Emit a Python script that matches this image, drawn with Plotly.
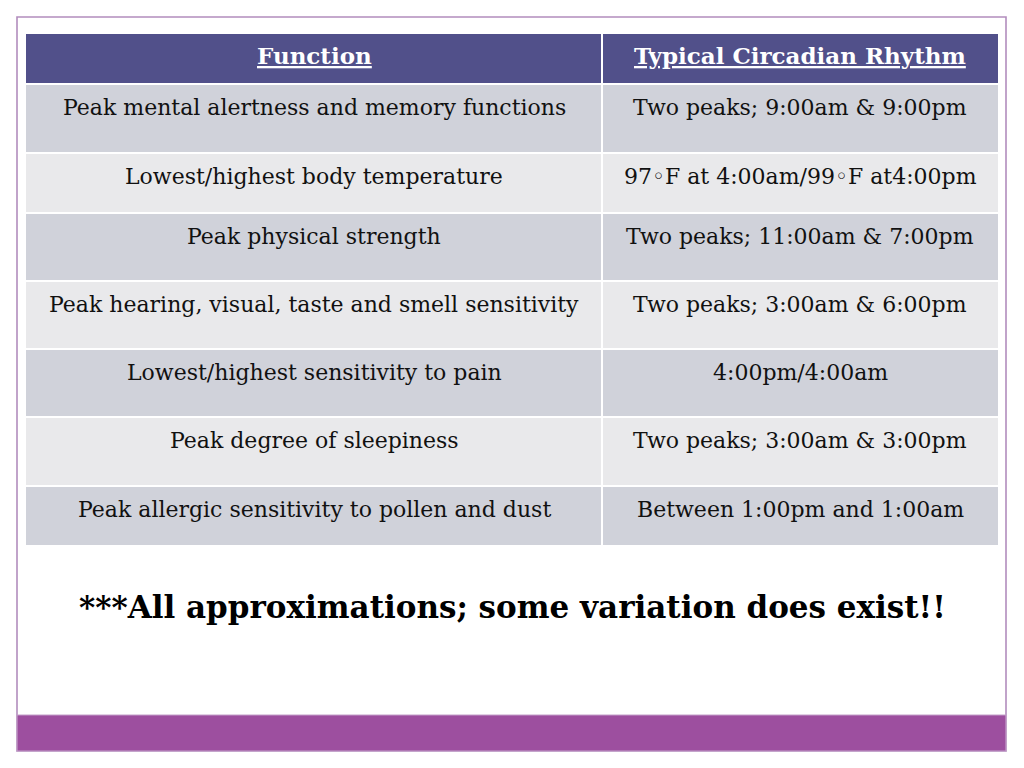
import plotly.graph_objects as go

# ---- data ----
headers = ["Function", "Typical Circadian Rhythm"]
functions = [
    "Peak mental alertness and memory functions",
    "Lowest/highest body temperature",
    "Peak physical strength",
    "Peak hearing, visual, taste and smell sensitivity",
    "Lowest/highest sensitivity to pain",
    "Peak degree of sleepiness",
    "Peak allergic sensitivity to pollen and dust",
]
rhythms = [
    "Two peaks; 9:00am & 9:00pm",
    "97\u25e6F at 4:00am/99\u25e6F at4:00pm",
    "Two peaks; 11:00am & 7:00pm",
    "Two peaks; 3:00am & 6:00pm",
    "4:00pm/4:00am",
    "Two peaks; 3:00am & 3:00pm",
    "Between 1:00pm and 1:00am",
]
footnote = "***All approximations; some variation does exist!!"

# ---- layout constants ----
W, H = 1024, 768
OFF = 8  # page body margin
col_edges = [26, 602, 998]
header_box = (34, 83)
row_bounds = [(85, 152), (154, 212), (214, 280), (282, 348), (350, 416), (418, 485), (487, 545)]
header_color = "#51508a"
dark_row = "#d0d2da"
light_row = "#e9e9eb"
FONT = "DejaVu Serif"

fig = go.Figure()
shapes = []
annotations = []

# slide frame
shapes.append(dict(type="rect", x0=17, x1=1006, y0=17, y1=751,
                   line=dict(color="#b28dbd", width=1.6), fillcolor="white", layer="below"))
# bottom bar
shapes.append(dict(type="rect", x0=17, x1=1006, y0=715, y1=751,
                   line=dict(color="#c39fc9", width=1.2), fillcolor="#9d4f9f", layer="below"))

# header cells
for c in range(2):
    x0 = col_edges[c] + (0 if c == 0 else 1)
    x1 = col_edges[c + 1] - (1 if c == 0 else 0)
    shapes.append(dict(type="rect", x0=x0, x1=x1, y0=header_box[0], y1=header_box[1],
                       line=dict(width=0), fillcolor=header_color, layer="below"))
    annotations.append(dict(x=(col_edges[c] + col_edges[c + 1]) / 2, y=(header_box[0] + header_box[1]) / 2 - 3,
                            text="<b>" + headers[c] + "</b>", showarrow=False,
                            xanchor="center", yanchor="middle",
                            font=dict(family=FONT, size=23, color="white", lineposition="under")))

# body rows
for r, (top, bot) in enumerate(row_bounds):
    fill = dark_row if r % 2 == 0 else light_row
    for c in range(2):
        x0 = col_edges[c] + (0 if c == 0 else 1)
        x1 = col_edges[c + 1] - (1 if c == 0 else 0)
        shapes.append(dict(type="rect", x0=x0, x1=x1, y0=top, y1=bot,
                           line=dict(width=0), fillcolor=fill, layer="below"))
    for c, txt in enumerate([functions[r], rhythms[r]]):
        annotations.append(dict(x=(col_edges[c] + col_edges[c + 1]) / 2, y=top + 22,
                                text=txt, showarrow=False, xanchor="center", yanchor="middle",
                                font=dict(family=FONT, size=22, color="#111111")))

# footnote
annotations.append(dict(x=512, y=607, text="<b>" + footnote + "</b>", showarrow=False,
                        xanchor="center", yanchor="middle",
                        font=dict(family=FONT, size=31, color="black")))

fig.update_layout(
    width=W, height=H,
    margin=dict(l=0, r=0, t=0, b=0),
    paper_bgcolor="white", plot_bgcolor="white",
    xaxis=dict(range=[OFF, W + OFF], visible=False, fixedrange=True),
    yaxis=dict(range=[H + OFF, OFF], visible=False, fixedrange=True),
    shapes=shapes, annotations=annotations,
    showlegend=False,
)
fig.write_html("out.html", config={"displayModeBar": False})
